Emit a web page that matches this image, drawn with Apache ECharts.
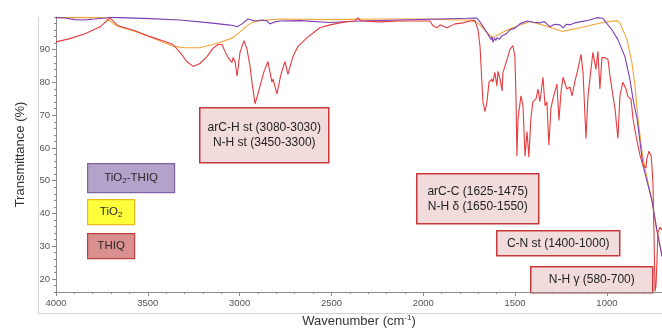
<!DOCTYPE html>
<html>
<head>
<meta charset="utf-8">
<script src="https://cdn.jsdelivr.net/npm/echarts@6/dist/echarts.min.js"></script>
<style>
  html, body { margin: 0; padding: 0; background: #fff; }
  #chart { width: 662px; height: 333px; }
</style>
</head>
<body>
<div id="chart"></div>
<script>
// FT-IR spectra: [wavenumber (cm-1), transmittance (%)]
const seriesNames = ['TiO2-THIQ', 'TiO2', 'THIQ'];

const tio2Thiq = [
  [4000,99.8],[3951,99.7],[3897,99.2],[3869,99.1],[3826,99.2],[3788,99.4],[3733,99.7],[3706,99.9],
  [3652,99.8],[3488,99.5],[3325,99.1],[3161,98.2],[3063,97.6],[3036,97.4],[3014,97.0],[2987,97.9],
  [2955,99.4],[2916,98.8],[2878,99.1],[2851,98.8],[2835,97.9],[2808,98.5],[2780,98.8],[2671,98.9],
  [2508,98.3],[2345,98.8],[2127,99.1],[1909,99.4],[1762,99.6],[1708,99.7],[1680,97.6],[1653,95.2],
  [1640,94.0],[1631,93.1],[1626,94.0],[1621,92.3],[1612,93.6],[1605,92.8],[1599,93.7],[1585,93.2],
  [1571,94.3],[1550,94.8],[1528,96.1],[1500,96.6],[1474,97.9],[1435,98.8],[1400,98.4],[1365,98.2],
  [1340,98.6],[1310,97.0],[1285,97.8],[1256,97.6],[1239,96.7],[1220,97.8],[1201,97.6],[1175,98.2],
  [1147,98.5],[1100,99.0],[1054,99.8],[1022,99.6],[973,96.1],[940,93.1],[902,87.9],[875,81.0],
  [858,75.0],[836,69.0],[804,54.8],[755,44.0],[728,34.9],[700,26.8]
];

const tio2 = [
  [4000,99.8],[3869,99.9],[3760,99.8],[3733,99.7],[3706,98.8],[3679,97.6],[3641,96.7],[3597,96.1],
  [3488,94.0],[3363,91.1],[3298,90.6],[3216,90.6],[3107,92.2],[3036,93.7],[2960,97.3],[2927,98.5],
  [2889,98.9],[2780,99.4],[2508,99.2],[2236,99.4],[1964,99.4],[1827,99.1],[1729,99.1],[1691,97.6],
  [1653,95.2],[1621,93.7],[1582,94.9],[1528,96.4],[1419,98.6],[1337,97.3],[1239,95.6],[1147,96.7],
  [1022,98.3],[945,98.9],[929,98.2],[891,93.1],[864,86.1],[847,78.9],[831,69.0],[809,59.0],
  [793,53.9],[755,44.0],[728,34.9],[700,27.4]
];

const thiq = [
  [4000,92.4],[3924,93.4],[3842,94.9],[3760,97.0],[3717,99.1],[3706,99.8],[3690,98.8],[3662,97.3],
  [3624,96.7],[3570,95.8],[3488,94.0],[3406,92.5],[3363,91.6],[3325,89.2],[3287,86.4],[3254,84.9],
  [3216,85.8],[3178,87.9],[3145,90.4],[3118,91.6],[3096,91.6],[3080,89.5],[3063,87.6],[3053,87.9],
  [3042,86.1],[3036,87.6],[3025,86.4],[3014,81.9],[2998,89.2],[2976,92.8],[2960,90.1],[2944,85.2],
  [2933,80.1],[2916,73.5],[2900,76.5],[2889,78.9],[2867,83.4],[2846,86.4],[2824,80.1],[2818,81.0],
  [2797,76.5],[2775,82.5],[2753,86.4],[2737,82.5],[2710,87.9],[2682,91.0],[2633,93.7],[2563,96.7],
  [2508,97.6],[2426,98.5],[2372,98.8],[2356,99.7],[2339,98.8],[2236,98.5],[2127,98.8],[1964,98.8],
  [1947,97.3],[1925,96.7],[1909,97.6],[1871,96.7],[1827,97.9],[1784,98.2],[1746,98.8],[1719,98.9],
  [1702,96.1],[1691,91.0],[1675,74.1],[1664,71.1],[1653,74.1],[1642,80.1],[1626,81.0],[1621,80.1],
  [1610,83.1],[1599,78.9],[1593,83.4],[1582,81.0],[1571,77.4],[1566,83.1],[1544,87.0],[1528,90.1],
  [1512,91.3],[1501,88.0],[1495,75.0],[1490,57.5],[1484,69.0],[1468,75.9],[1457,72.9],[1446,57.5],
  [1435,65.0],[1425,57.2],[1414,69.0],[1403,74.1],[1386,75.0],[1375,78.0],[1365,74.1],[1348,81.6],
  [1337,72.9],[1327,74.1],[1316,60.8],[1305,72.0],[1294,75.0],[1272,79.5],[1261,68.4],[1250,77.1],
  [1239,81.6],[1218,78.0],[1201,78.6],[1190,75.9],[1174,80.4],[1158,84.0],[1141,88.6],[1130,83.1],
  [1114,62.9],[1103,75.9],[1087,84.0],[1076,89.2],[1060,84.0],[1049,89.5],[1038,78.0],[1027,87.6],
  [1011,87.6],[994,87.0],[983,81.9],[967,75.9],[956,72.0],[940,62.9],[929,75.9],[913,80.1],
  [896,78.0],[885,75.6],[869,75.0],[858,69.0],[842,63.8],[820,57.8],[804,54.8],[787,53.9],
  [782,56.9],[771,59.0],[760,57.8],[755,54.8],[749,48.8],[744,34.9],[738,16.2],[733,17.7],
  [728,24.7],[722,34.3],[711,35.8],[700,34.9]
];

// axis ticks
const xMajorTicks = [1000, 1500, 2000, 2500, 3000, 3500, 4000];
const yMajorTicks = [20, 30, 40, 50, 60, 70, 80, 90];

// band assignments written in the boxes
const bandNotes = [
  ['arC-H st (3080-3030)', 'N-H st (3450-3300)'],
  ['arC-C (1625-1475)', 'N-H δ (1650-1550)'],
  ['C-N st (1400-1000)'],
  ['N-H γ (580-700)']
];

const FONT = '"Liberation Sans", Arial, sans-serif';
const NARROW = '"Liberation Sans Narrow", "Liberation Sans", Arial, sans-serif';
const colors = { purple: '#7b3fb5', orange: '#f2a43a', red: '#e63b3f' };

function noteBox(x, y, w, h, lines) {
  return {
    type: 'group', left: x, top: y,
    children: [
      { type: 'rect', shape: { x: 0, y: 0, width: w, height: h },
        style: { fill: '#f2dcdb', stroke: '#c8383a', lineWidth: 1.5 } },
      { type: 'text', x: w / 2, y: h / 2,
        style: { text: lines.join('\n'), align: 'center', verticalAlign: 'middle',
                 font: '12px ' + FONT, fill: '#222', lineHeight: 15 } }
    ]
  };
}

function keyBox(x, y, w, h, fill, stroke, text) {
  return {
    type: 'group', left: x, top: y,
    children: [
      { type: 'rect', shape: { x: 0, y: 0, width: w, height: h },
        style: { fill: fill, stroke: stroke, lineWidth: 1.2 } },
      { type: 'text', x: w / 2, y: h / 2,
        style: { text: text, align: 'center', verticalAlign: 'middle',
                 fontFamily: FONT, fontSize: 11.5, fill: '#2a2a2a',
                 rich: { sub: { fontFamily: FONT, fontSize: 8, padding: [6, 0, 0, 0], fill: '#2a2a2a' } } } }
    ]
  };
}

const plainNumber = v => String(v);

const chart = echarts.init(document.getElementById('chart'), null, { renderer: 'canvas' });

const option = {
  animation: false,
  backgroundColor: '#ffffff',
  grid: { left: 56, right: 0, top: 17, bottom: 37, containLabel: false },
  xAxis: [
    {
      type: 'value', inverse: true, min: 700, max: 4000, interval: 100,
      name: 'Wavenumber (cm{sup|-1})', nameLocation: 'middle', nameGap: 22,
      nameTextStyle: { fontFamily: FONT, fontSize: 13, color: '#333',
        rich: { sup: { fontFamily: FONT, fontSize: 8, color: '#333', padding: [0, 0, 7, 0] } } },
      axisLine: { show: true, lineStyle: { color: '#8a8a8a', width: 1 } },
      axisTick: { show: true, length: 2, lineStyle: { color: '#8a8a8a' } },
      axisLabel: { customValues: xMajorTicks, formatter: plainNumber,
                   fontFamily: NARROW, fontSize: 9.5, color: '#555', margin: 6 },
      splitLine: { show: false }
    },
    {
      type: 'value', inverse: true, min: 700, max: 4000, interval: 100, position: 'bottom',
      axisLine: { show: false },
      axisTick: { show: true, length: 4, customValues: xMajorTicks, lineStyle: { color: '#8a8a8a' } },
      axisLabel: { show: false },
      splitLine: { show: false }
    }
  ],
  yAxis: [
    {
      type: 'value', min: 16, max: 100, interval: 2,
      name: 'Transmittance (%)', nameLocation: 'middle', nameGap: 29,
      nameTextStyle: { fontFamily: FONT, fontSize: 13, color: '#333' },
      axisLine: { show: true, lineStyle: { color: '#8a8a8a', width: 1 } },
      axisTick: { show: true, length: 2, lineStyle: { color: '#8a8a8a' } },
      axisLabel: { customValues: yMajorTicks, formatter: plainNumber,
                   fontFamily: NARROW, fontSize: 9.5, color: '#555', margin: 6 },
      splitLine: { show: false }
    },
    {
      type: 'value', min: 16, max: 100, interval: 2, position: 'left',
      axisLine: { show: false },
      axisTick: { show: true, length: 4, customValues: yMajorTicks, lineStyle: { color: '#8a8a8a' } },
      axisLabel: { show: false },
      splitLine: { show: false }
    }
  ],
  series: [
    { name: seriesNames[1], type: 'line', data: tio2, showSymbol: false, silent: true,
      lineStyle: { color: colors.orange, width: 1.1 }, z: 2 },
    { name: seriesNames[0], type: 'line', data: tio2Thiq, showSymbol: false, silent: true,
      lineStyle: { color: colors.purple, width: 1.1 }, z: 3 },
    { name: seriesNames[2], type: 'line', data: thiq, showSymbol: false, silent: true,
      lineStyle: { color: colors.red, width: 1.1 }, z: 4 }
  ],
  graphic: [
    // outer chart-area frame (left and bottom edges)
    { type: 'line', shape: { x1: 38.5, y1: 17, x2: 38.5, y2: 313.5 }, style: { stroke: '#d4d4d4', lineWidth: 1 } },
    { type: 'line', shape: { x1: 38.5, y1: 313.5, x2: 662, y2: 313.5 }, style: { stroke: '#d4d4d4', lineWidth: 1 } },
    noteBox(199, 107, 129, 55, bandNotes[0]),
    noteBox(416, 173, 122, 50, bandNotes[1]),
    noteBox(496, 230, 123, 25, bandNotes[2]),
    noteBox(530, 266, 122, 26, bandNotes[3]),
    keyBox(87, 163, 87, 29, '#b3a2c9', '#8063a3', 'TiO{sub|2}-THIQ'),
    keyBox(87, 199, 47, 25, '#ffff3c', '#e8b820', 'TiO{sub|2}'),
    keyBox(87, 233, 47, 25, '#d98f8e', '#c0403e', 'THIQ')
  ]
};

chart.setOption(option);
</script>
</body>
</html>
